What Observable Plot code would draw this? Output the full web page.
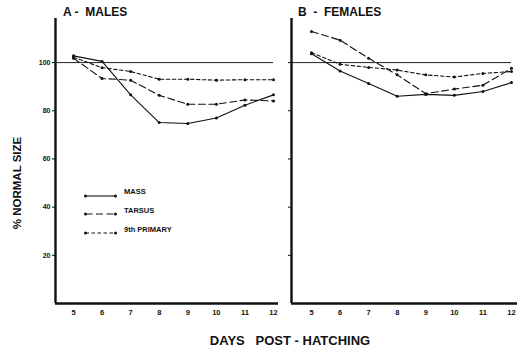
<!DOCTYPE html>
<html><head><meta charset="utf-8">
<script src="https://cdn.jsdelivr.net/npm/d3@7"></script>
<script src="https://cdn.jsdelivr.net/npm/@observablehq/plot@0.6"></script>
<style>
body{margin:0;background:#fff;}
#wrap{position:relative;width:526px;height:352px;overflow:hidden;font-family:"Liberation Sans",Arial,sans-serif;font-weight:bold;color:#111;}
.abs{position:absolute;white-space:pre;}
.title{font-size:12px;top:5px;}
#ylab{font-size:11.5px;left:17px;top:183px;transform:translate(-50%,-50%) rotate(-90deg);}
#xlab{font-size:13px;top:333px;left:290px;transform:translateX(-50%);}
.leg{font-size:7.5px;}
svg text{font-family:"Liberation Sans",Arial,sans-serif;font-weight:bold;}
</style></head>
<body>
<div id="wrap">
  <div id="pA" class="abs" style="left:0;top:0"></div>
  <div id="pB" class="abs" style="left:282px;top:0"></div>
  <div class="abs title" style="left:63px">A -  MALES</div>
  <div class="abs title" style="left:298px">B  -  FEMALES</div>
  <div id="ylab" class="abs">% NORMAL SIZE</div>
  <div id="xlab" class="abs">DAYS   POST - HATCHING</div>
  <div id="legend"></div>
</div>
<script>
const days = [5, 6, 7, 8, 9, 10, 11, 12];
const seriesNames = ["MASS", "TARSUS", "9th PRIMARY"];
const dashes = ["none", "7,3.5", "3.5,2.5"];
const yTicks = [20, 40, 60, 80, 100];
const normalLevel = 100;

const malesMass    = [102.8, 100.5, 86.6, 75.1, 74.7, 77.0, 82.3, 86.6];
const malesTarsus  = [101.8, 93.4, 92.7, 86.4, 82.7, 82.7, 84.5, 84.1];
const malesPrimary = [102.2, 97.9, 96.3, 93.1, 93.1, 92.7, 92.9, 92.9];

const femalesMass    = [103.7, 96.5, 91.3, 86.0, 86.8, 86.4, 88.0, 91.7];
const femalesTarsus  = [112.9, 109.3, 101.8, 94.9, 87.1, 89.0, 90.6, 97.6];
const femalesPrimary = [104.1, 99.3, 98.0, 96.9, 94.9, 94.0, 95.5, 96.3];

function rows(arrs) {
  return arrs.map((vals, i) => days.map((d, j) => ({series: seriesNames[i], day: d, value: vals[j]})));
}

function panel(seriesRows, xDomain, opts) {
  const marks = [
    Plot.ruleY([normalLevel], {x1: xDomain[0], x2: d3.max(days), stroke: "#222", strokeWidth: 1}),
    Plot.ruleX([xDomain[0]], {stroke: "#111", strokeWidth: 2.4}),
    Plot.ruleY([0], {stroke: "#111", strokeWidth: 2.4}),
    Plot.axisY(yTicks, {label: null, tickSize: 3, tickPadding: 2, fontSize: 7, tickFormat: opts.yLabels ? (d => d) : (() => "")}),
    Plot.axisX(days, {label: null, tickSize: 0, tickPadding: 6, fontSize: 7.5})
  ];
  seriesRows.forEach((data, i) => {
    marks.push(Plot.line(data, {x: "day", y: "value", stroke: "#111", strokeWidth: 1.1, strokeDasharray: dashes[i]}));
    marks.push(Plot.dot(data, {x: "day", y: "value", r: 1.5, fill: "#111", stroke: "none"}));
  });
  return Plot.plot({
    width: opts.width, height: 352,
    marginLeft: opts.ml, marginRight: opts.mr, marginTop: 18, marginBottom: 49,
    x: {domain: xDomain, axis: null},
    y: {domain: [0, 118.3], axis: null},
    style: {background: "transparent", color: "#111"},
    marks
  });
}

document.getElementById("pA").appendChild(
  panel(rows([malesMass, malesTarsus, malesPrimary]), [4.37, 12.175], {width: 282, ml: 55, mr: 4, yLabels: true}));
document.getElementById("pB").appendChild(
  panel(rows([femalesMass, femalesTarsus, femalesPrimary]), [4.3, 12.21], {width: 244, ml: 9, mr: 9, yLabels: false}));

// legend
const legTop = [191, 209.5, 228.5];
const leg = document.getElementById("legend");
seriesNames.forEach((name, i) => {
  const div = document.createElement("div");
  div.className = "abs";
  div.style.left = "84px";
  div.style.top = (legTop[i] - 5) + "px";
  div.innerHTML = `<svg width="34" height="10" style="vertical-align:middle"><line x1="1.5" y1="5" x2="31.5" y2="5" stroke="#111" stroke-width="1.1" ${dashes[i] !== "none" ? `stroke-dasharray="${dashes[i]}"` : ""}/><circle cx="1.5" cy="5" r="1.5" fill="#111"/><circle cx="31.5" cy="5" r="1.5" fill="#111"/></svg><span class="leg" style="position:absolute;left:40px;top:1px">${name}</span>`;
  leg.appendChild(div);
});
</script>
</body></html>
